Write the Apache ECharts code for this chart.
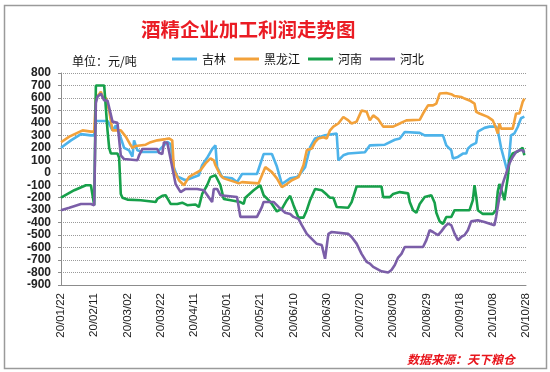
<!DOCTYPE html>
<html><head><meta charset="utf-8">
<script src="https://cdn.jsdelivr.net/npm/echarts/dist/echarts.min.js"></script>
<style>html,body{margin:0;padding:0;background:#fff}#c{width:550px;height:372px}</style>
</head><body><div id="c"></div>
<script>
// ---- data ----
const seriesNames = ['吉林', '黑龙江', '河南', '河北'];
const startDate = [2020, 0, 22];   // 2020-01-22, day 0
const dayMax = 280;                 // 2020-10-28
const tickStep = 20;
const yMin = -900, yMax = 800, yStep = 100;
const titleText = '酒精企业加工利润走势图';
const unitText = '单位：元/吨';
const sourceText = '数据来源：天下粮仓';

// [day offset from 2020-01-22, profit 元/吨]
const jilin = [[0,200],[6,260],[12,310],[18,300],[20,300],[21,415],[28,415],[29,395],[31,340],[33,380],[35,320],[38,200],[41,180],[43,130],[44,260],[46,180],[49,167],[58,167],[60,194],[64,247],[66,230],[68,40],[70,-30],[75,-60],[79,-40],[83,-20],[85,60],[88,120],[91,190],[93,220],[94,45],[97,-35],[103,-45],[106,-75],[109,-10],[118,-10],[122,150],[127,150],[130,50],[133,-90],[134,-100],[138,-45],[142,-35],[144,-10],[147,45],[150,205],[153,275],[159,300],[166,315],[167,100],[170,140],[173,155],[183,165],[186,220],[195,225],[201,265],[204,275],[207,327],[216,320],[219,300],[230,300],[232,220],[235,180],[236,115],[239,127],[242,154],[244,154],[245,194],[247,220],[250,240],[251,330],[255,360],[258,370],[262,370],[263,340],[264,330],[265,200],[268,50],[269,5],[270,150],[271,300],[273,315],[275,367],[277,437],[279,450]];
const heilongjiang = [[0,245],[5,290],[13,340],[18,330],[20,330],[21,600],[23,630],[24,650],[25,610],[27,600],[28,540],[29,500],[31,340],[36,340],[39,290],[42,220],[43,200],[45,215],[46,225],[51,225],[54,245],[58,260],[63,270],[65,275],[67,260],[68,20],[71,-60],[74,-100],[77,-35],[80,-10],[84,20],[87,75],[90,115],[92,100],[93,60],[96,-20],[98,-45],[105,-75],[107,-85],[109,-75],[119,-85],[123,45],[124,60],[127,5],[130,-45],[133,-115],[135,-100],[139,-60],[143,-35],[146,60],[148,180],[151,195],[153,245],[155,275],[158,285],[160,275],[162,340],[164,370],[167,395],[170,447],[173,420],[175,395],[178,410],[181,500],[184,490],[186,420],[188,460],[191,430],[194,370],[200,370],[204,395],[206,408],[208,420],[216,425],[218,475],[221,540],[224,540],[226,555],[228,635],[232,640],[235,630],[237,615],[241,608],[243,595],[246,580],[249,555],[250,488],[252,475],[257,448],[260,420],[262,354],[263,314],[264,395],[265,354],[272,354],[274,475],[276,475],[278,568],[279,595]];
const henan = [[0,-200],[8,-140],[15,-100],[18,-100],[20,-260],[21,700],[26,700],[27,690],[28,340],[29,200],[30,155],[34,155],[35,120],[36,-170],[37,-200],[40,-215],[48,-220],[49,-235],[57,-235],[58,-210],[61,-185],[63,-180],[64,-195],[66,-250],[70,-250],[73,-240],[76,-260],[81,-255],[83,-275],[85,-170],[88,-100],[90,-35],[93,-20],[96,-100],[98,-210],[108,-235],[110,-250],[111,-200],[116,-140],[120,-100],[122,-180],[125,-220],[127,-250],[130,-310],[133,-290],[136,-220],[138,-185],[140,-260],[143,-360],[146,-360],[148,-300],[150,-220],[153,-130],[157,-140],[160,-175],[162,-200],[164,-200],[166,-275],[173,-280],[175,-235],[178,-110],[193,-110],[194,-195],[198,-195],[200,-170],[204,-155],[209,-165],[210,-235],[212,-300],[214,-320],[216,-250],[219,-195],[223,-180],[225,-240],[226,-320],[228,-390],[230,-410],[232,-355],[235,-355],[237,-300],[246,-300],[248,-220],[249,-100],[250,-190],[251,-300],[254,-330],[260,-330],[262,-300],[263,-150],[264,-90],[266,-170],[267,-220],[269,-40],[270,100],[272,155],[275,170],[276,185],[278,200],[279,140]];
const hebei = [[0,-300],[5,-280],[12,-250],[18,-250],[20,-260],[21,560],[22,610],[24,635],[25,620],[26,580],[28,580],[31,410],[34,400],[35,395],[36,140],[38,110],[39,100],[46,100],[47,140],[49,190],[58,190],[59,160],[61,150],[62,245],[64,240],[67,45],[69,-90],[72,-155],[75,-130],[82,-130],[86,-140],[91,-235],[92,-130],[94,-130],[96,-180],[97,-194],[106,-194],[108,-354],[118,-354],[121,-274],[122,-234],[128,-234],[131,-274],[135,-320],[138,-330],[140,-354],[143,-370],[145,-420],[148,-490],[151,-530],[154,-570],[157,-580],[159,-690],[161,-490],[163,-475],[173,-490],[175,-515],[178,-568],[181,-650],[184,-715],[185,-700],[186,-728],[188,-755],[193,-790],[197,-800],[199,-780],[201,-740],[203,-680],[205,-650],[207,-595],[218,-595],[220,-540],[222,-461],[224,-475],[225,-461],[227,-500],[229,-470],[231,-434],[233,-408],[235,-420],[237,-488],[239,-541],[241,-515],[243,-500],[245,-461],[247,-390],[251,-381],[255,-394],[261,-421],[262,-354],[264,-194],[266,-87],[268,-7],[270,74],[272,127],[274,167],[276,180],[278,180],[279,160]];

const seriesData = [jilin, heilongjiang, henan, hebei];
const colors = ['#4db3ea', '#f2a13a', '#17a04a', '#7b5ea8'];

function pad(n) { return (n < 10 ? '0' : '') + n; }
function dayLabel(d) {
  const t = new Date(Date.UTC(startDate[0], startDate[1], startDate[2]) + d * 86400000);
  return String(t.getUTCFullYear()).slice(2) + '/' + pad(t.getUTCMonth() + 1) + '/' + pad(t.getUTCDate());
}

const cjk = '"Noto Sans CJK SC", "Noto Sans", sans-serif';
const latin = '"Liberation Sans", Arial, sans-serif';
const chart = echarts.init(document.getElementById('c'), null, { renderer: 'canvas' });
chart.setOption({
  backgroundColor: '#ffffff',
  animation: false,
  color: colors,
  title: {
    text: titleText, left: 141, top: 20, padding: 0,
    textStyle: { fontFamily: cjk, fontSize: 19.5, fontWeight: 'bold', color: '#ea1c24' }
  },
  legend: {
    data: seriesNames, left: 172, top: 53, icon: 'rect', itemWidth: 25, itemHeight: 3, itemGap: 8, padding: 0,
    textStyle: { fontFamily: cjk, fontSize: 12, color: '#111' }
  },
  graphic: [
    { type: 'rect', silent: true, shape: { x: 4.5, y: 5.5, width: 542, height: 363 },
      style: { fill: 'none', stroke: '#9a9a9a', lineWidth: 1.5 } },
    { type: 'text', left: 72, top: 55, style: { text: unitText, font: '12px ' + cjk, fill: '#111' } },
    { type: 'text', left: 407, top: 353, style: { text: sourceText, font: 'italic bold 12px ' + cjk, fill: '#e8141b' } }
  ],
  grid: { left: 61, right: 24, top: 73, bottom: 87, containLabel: false },
  xAxis: {
    type: 'value', min: 0, max: dayMax, interval: tickStep,
    axisLine: { show: true, onZero: false, lineStyle: { color: '#8c8c8c', width: 1 } },
    axisTick: { show: false },
    splitLine: { show: false },
    axisLabel: { rotate: 90, margin: 8, fontSize: 11.5, color: '#222', fontFamily: latin,
      formatter: v => dayLabel(v), showMinLabel: true, showMaxLabel: true, hideOverlap: false }
  },
  yAxis: {
    type: 'value', min: yMin, max: yMax, interval: yStep,
    axisLine: { show: true, onZero: false, lineStyle: { color: '#8c8c8c', width: 1 } },
    axisTick: { show: true, length: 3, lineStyle: { color: '#8c8c8c' } },
    splitLine: { show: true, showMinLine: true, showMaxLine: true, lineStyle: { type: 'dotted', color: '#9a9a9a', width: 1 } },
    axisLabel: { fontSize: 12, lineHeight: 11, margin: 10, color: '#222', fontFamily: latin, fontWeight: 'bold',
      showMinLabel: true, showMaxLabel: true, hideOverlap: false }
  },
  series: seriesNames.map((n, i) => ({
    name: n, type: 'line', data: seriesData[i], symbol: 'none', showSymbol: false,
    lineStyle: { width: 2.6, color: colors[i] }, itemStyle: { color: colors[i] }
  }))
});
</script>
</body></html>
